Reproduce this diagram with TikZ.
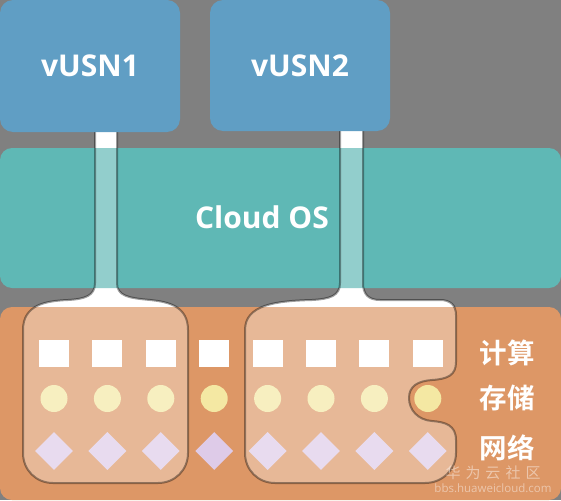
\documentclass[tikz,border=0pt]{standalone}
\usepackage{fontspec}
\setmainfont{Open Sans}
\newfontfamily\cjk{Noto Sans CJK SC}[BoldFont={Noto Sans CJK SC Bold}]
\usetikzlibrary{shapes.geometric}
\definecolor{bggray}{RGB}{128,128,128}
\definecolor{usnblue}{RGB}{96,158,196}
\definecolor{osteal}{RGB}{95,184,181}
\definecolor{reso}{RGB}{221,151,102}
\definecolor{circy}{RGB}{244,232,163}
\definecolor{diamp}{RGB}{222,203,232}
\tikzset{
  vmbox/.style={fill=usnblue, rounded corners=13pt, inner sep=0pt, text=white, font=\bfseries\fontsize{30}{30}\selectfont},
  sqitem/.style={fill=white, inner sep=0pt, minimum width=30pt, minimum height=27pt},
  ciritem/.style={circle, fill=circy, inner sep=0pt, minimum size=27pt},
  diaitem/.style={diamond, fill=diamp, inner sep=0pt, minimum width=38pt, minimum height=38pt},
  reslabel/.style={text=white, font=\cjk\bfseries\fontsize{27.5}{27.5}\selectfont, inner sep=0pt},
  outl/.style={draw=black, draw opacity=0.38, line width=2pt},
  wmark/.style={text=white, text opacity=0.45, inner sep=0pt}
}
\begin{document}
\begin{tikzpicture}[x=1pt,y=-1pt]
\useasboundingbox (0,0) rectangle (561,500);
\fill[bggray] (0,0) rectangle (561,500);
\def\sliceA{(95,125) -- (95,283) .. controls (95,296) and (85,299) .. (68,300) .. controls (45,301) and (23,305) .. (23,330) -- (23,453) .. controls (23,470) and (36,483) .. (53,483) -- (158,483) .. controls (175,483) and (188,470) .. (188,453) -- (188,330) .. controls (188,307) and (170,302) .. (150,300) .. controls (128,298) and (117,296) .. (117,283) -- (117,125) -- cycle}
\def\sliceB{(340,125) -- (340,283) .. controls (340,296) and (330,299) .. (312,300) .. controls (275,301) and (245,305) .. (245,330) -- (245,453) .. controls (245,470) and (258,483) .. (275,483) -- (425,483) .. controls (442,483) and (456,470) .. (456,453) -- (456,440) .. controls (456,425) and (445,422) .. (432,421) .. controls (418,420) and (409,410) .. (409,398) .. controls (409,386) and (418,381) .. (432,380) .. controls (448,379) and (456,375) .. (456,362) -- (456,315) .. controls (456,305) and (450,300) .. (440,300) -- (380,300) .. controls (368,300) and (363,294) .. (363,283) -- (363,125) -- cycle}
% white necks
\fill[white] \sliceA;
\fill[white] \sliceB;
% bands
\fill[osteal, rounded corners=12pt] (0,148) rectangle (561,288);
\fill[reso, rounded corners=12pt] (0,307) rectangle (561,500);
% items
\foreach \i in {0,...,7}{
  \node[sqitem] (sq\i) at ({54+53.4*\i},353.5) {};
  \node[ciritem] (ci\i) at ({54+53.4*\i},398.5) {};
  \node[diaitem] (di\i) at ({54+53.4*\i},451) {};
}
% translucent slices
\fill[white, opacity=0.32] \sliceA;
\fill[white, opacity=0.32] \sliceB;
\path[outl] \sliceA;
\path[outl] \sliceB;
% vUSN boxes
\node[vmbox, minimum width=180pt, minimum height=132pt] (usn1) at (90,66) {vUSN1};
\node[vmbox, minimum width=180pt, minimum height=131pt] (usn2) at (300,65.5) {vUSN2};
\node[text=white, font=\bfseries\fontsize{30}{30}\selectfont, inner sep=0pt] (cos) at (262,217) {Cloud OS};
% labels
\node[reslabel] (lcalc) at (507,353) {计算};
\node[reslabel] (lstor) at (507,398) {存储};
\node[reslabel] (lnet) at (507,448) {网络};
% watermark
\node[wmark, font=\cjk\fontsize{15}{15}\selectfont] (wm1) at (493,472.5) {华\hspace{5pt}为\hspace{5pt}云\hspace{5pt}社\hspace{5pt}区};
\node[wmark, font=\fontsize{11.5}{11.5}\selectfont] (wm2) at (493,488) {bbs.huaweicloud.com};
\end{tikzpicture}
\end{document}
